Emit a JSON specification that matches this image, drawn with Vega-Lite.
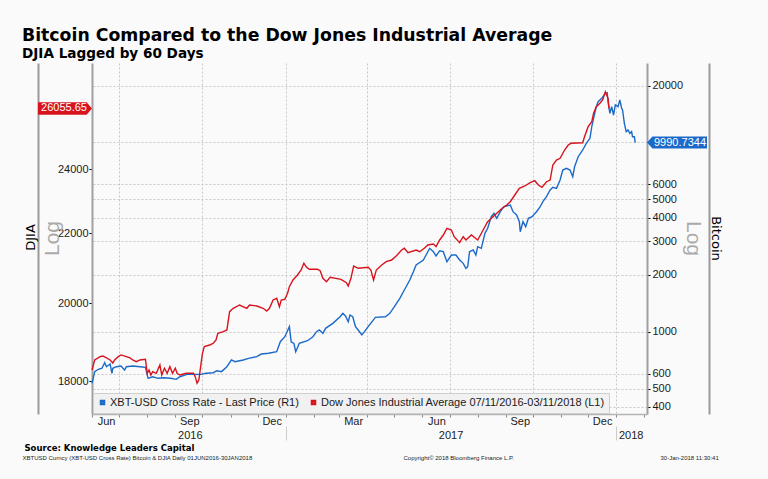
{
"$schema": "https://vega.github.io/schema/vega-lite/v6.json",
"width": 555, "height": 351,
"autosize": {"type": "none"},
"padding": {"left": 92, "top": 63, "right": 121, "bottom": 65},
"background": "#fafafa",
"title": {"text": "Bitcoin Compared to the Dow Jones Industrial Average", "subtitle": "DJIA Lagged by 60 Days", "anchor": "start", "frame": "group", "dx": -70, "offset": 2, "font": "DejaVu Sans", "fontSize": 17.3, "fontWeight": "bold", "color": "#000000", "subtitleFont": "DejaVu Sans", "subtitleFontSize": 13.6, "subtitleFontWeight": "bold", "subtitleColor": "#000000", "subtitlePadding": 3},
"config": {"view": {"stroke": null}, "axis": {"labelFont": "Liberation Sans", "labelFontSize": 11, "labelColor": "#1a1a1a"}},
"datasets": {
"btc": [
{"date":"2016-06-01","value":534},{"date":"2016-06-04","value":615},{"date":"2016-06-08","value":633},{"date":"2016-06-12","value":641},{"date":"2016-06-15","value":686},{"date":"2016-06-17","value":653},{"date":"2016-06-21","value":675},{"date":"2016-06-23","value":603},{"date":"2016-06-24","value":641},{"date":"2016-06-28","value":653},
{"date":"2016-07-03","value":659},{"date":"2016-07-07","value":627},{"date":"2016-07-09","value":653},{"date":"2016-07-16","value":659},{"date":"2016-07-24","value":653},{"date":"2016-07-30","value":648},
{"date":"2016-08-02","value":567},{"date":"2016-08-07","value":578},{"date":"2016-08-13","value":567},{"date":"2016-08-19","value":571},{"date":"2016-08-27","value":567},
{"date":"2016-09-02","value":560},{"date":"2016-09-06","value":578},{"date":"2016-09-14","value":595},{"date":"2016-09-29","value":595},
{"date":"2016-10-05","value":603},{"date":"2016-10-13","value":607},{"date":"2016-10-17","value":622},{"date":"2016-10-22","value":615},{"date":"2016-10-28","value":653},
{"date":"2016-11-02","value":709},{"date":"2016-11-06","value":694},{"date":"2016-11-15","value":709},{"date":"2016-11-21","value":723},{"date":"2016-11-30","value":738},
{"date":"2016-12-05","value":762},{"date":"2016-12-13","value":769},{"date":"2016-12-22","value":784},{"date":"2016-12-26","value":885},{"date":"2016-12-31","value":941},
{"date":"2017-01-05","value":1063},{"date":"2017-01-07","value":885},{"date":"2017-01-10","value":868},{"date":"2017-01-12","value":784},{"date":"2017-01-16","value":868},{"date":"2017-01-25","value":896},{"date":"2017-01-31","value":941},
{"date":"2017-02-04","value":1000},{"date":"2017-02-07","value":1021},{"date":"2017-02-11","value":981},{"date":"2017-02-14","value":1042},{"date":"2017-02-22","value":1107},
{"date":"2017-03-02","value":1200},{"date":"2017-03-05","value":1251},{"date":"2017-03-08","value":1210},{"date":"2017-03-11","value":1129},{"date":"2017-03-13","value":1225},{"date":"2017-03-16","value":1200},{"date":"2017-03-19","value":1063},{"date":"2017-03-22","value":1021},{"date":"2017-03-26","value":961},{"date":"2017-03-29","value":1000},
{"date":"2017-04-02","value":1063},{"date":"2017-04-10","value":1191},{"date":"2017-04-21","value":1200},{"date":"2017-04-26","value":1251},
{"date":"2017-05-01","value":1355},{"date":"2017-05-07","value":1501},{"date":"2017-05-12","value":1661},{"date":"2017-05-18","value":1876},{"date":"2017-05-22","value":2075},{"date":"2017-05-25","value":2251},
{"date":"2017-06-02","value":2392},{"date":"2017-06-05","value":2542},{"date":"2017-06-09","value":2759},{"date":"2017-06-13","value":2647},{"date":"2017-06-16","value":2512},{"date":"2017-06-20","value":2679},{"date":"2017-06-24","value":2647},{"date":"2017-06-28","value":2343},
{"date":"2017-07-03","value":2542},{"date":"2017-07-08","value":2542},{"date":"2017-07-12","value":2392},{"date":"2017-07-16","value":2298},{"date":"2017-07-19","value":2163},{"date":"2017-07-21","value":2205},{"date":"2017-07-23","value":2647},{"date":"2017-07-27","value":2702},{"date":"2017-07-30","value":2542},
{"date":"2017-08-01","value":2813},{"date":"2017-08-05","value":2759},{"date":"2017-08-09","value":3311},{"date":"2017-08-12","value":3519},{"date":"2017-08-16","value":4052},{"date":"2017-08-19","value":4223},{"date":"2017-08-22","value":3974},{"date":"2017-08-26","value":4306},{"date":"2017-08-30","value":4576},
{"date":"2017-09-06","value":4672},{"date":"2017-09-09","value":4306},{"date":"2017-09-13","value":4137},{"date":"2017-09-16","value":3813},{"date":"2017-09-17","value":3376},{"date":"2017-09-20","value":3813},{"date":"2017-09-23","value":3588},{"date":"2017-09-26","value":3974},{"date":"2017-09-30","value":4052},
{"date":"2017-10-05","value":4306},{"date":"2017-10-09","value":4576},{"date":"2017-10-12","value":4863},{"date":"2017-10-16","value":5169},{"date":"2017-10-20","value":5608},{"date":"2017-10-23","value":5795},{"date":"2017-10-27","value":5725},{"date":"2017-10-31","value":6333},
{"date":"2017-11-03","value":7153},{"date":"2017-11-07","value":7303},{"date":"2017-11-11","value":7153},{"date":"2017-11-14","value":6592},{"date":"2017-11-16","value":7446},{"date":"2017-11-20","value":8409},{"date":"2017-11-25","value":9123},{"date":"2017-11-29","value":9882},
{"date":"2017-12-03","value":10520},{"date":"2017-12-05","value":12115},{"date":"2017-12-07","value":13419},{"date":"2017-12-10","value":15452},{"date":"2017-12-12","value":16422},{"date":"2017-12-16","value":17115},{"date":"2017-12-20","value":18189},{"date":"2017-12-22","value":18323},{"date":"2017-12-23","value":16422},{"date":"2017-12-25","value":14260},{"date":"2017-12-27","value":15452},{"date":"2017-12-29","value":13968},{"date":"2017-12-31","value":15775},
{"date":"2018-01-03","value":15452},{"date":"2018-01-05","value":16766},{"date":"2018-01-07","value":15155},{"date":"2018-01-08","value":14844},{"date":"2018-01-10","value":12626},{"date":"2018-01-12","value":11399},{"date":"2018-01-14","value":11638},{"date":"2018-01-16","value":11180},{"date":"2018-01-18","value":11399},{"date":"2018-01-19","value":10727},{"date":"2018-01-21","value":10727},{"date":"2018-01-22","value":9990.7344}
],
"djia": [
{"date":"2016-06-01","value":18272},{"date":"2016-06-04","value":18521},{"date":"2016-06-10","value":18605},{"date":"2016-06-13","value":18622},{"date":"2016-06-17","value":18572},{"date":"2016-06-21","value":18521},{"date":"2016-06-24","value":18446},{"date":"2016-06-26","value":18521},{"date":"2016-06-30","value":18605},
{"date":"2016-07-03","value":18648},{"date":"2016-07-09","value":18605},{"date":"2016-07-13","value":18572},{"date":"2016-07-16","value":18521},{"date":"2016-07-20","value":18479},{"date":"2016-07-24","value":18521},{"date":"2016-07-30","value":18539},
{"date":"2016-08-01","value":18190},{"date":"2016-08-03","value":18272},{"date":"2016-08-05","value":18148},{"date":"2016-08-07","value":18230},{"date":"2016-08-11","value":18190},{"date":"2016-08-15","value":18396},{"date":"2016-08-17","value":18148},{"date":"2016-08-20","value":18314},{"date":"2016-08-23","value":18190},{"date":"2016-08-26","value":18354},{"date":"2016-08-29","value":18190},
{"date":"2016-09-01","value":18314},{"date":"2016-09-03","value":18190},{"date":"2016-09-06","value":18148},{"date":"2016-09-13","value":18190},{"date":"2016-09-21","value":18190},{"date":"2016-09-23","value":18106},{"date":"2016-09-25","value":17945},{"date":"2016-09-27","value":18025},{"date":"2016-09-29","value":18354},
{"date":"2016-10-01","value":18690},{"date":"2016-10-03","value":18859},{"date":"2016-10-09","value":18902},{"date":"2016-10-13","value":18946},{"date":"2016-10-16","value":19031},{"date":"2016-10-18","value":19205},{"date":"2016-10-24","value":19246},{"date":"2016-10-28","value":19291},{"date":"2016-10-31","value":19776},
{"date":"2016-11-04","value":19867},{"date":"2016-11-11","value":19956},{"date":"2016-11-19","value":19867},{"date":"2016-11-22","value":19956},{"date":"2016-11-30","value":19929},
{"date":"2016-12-07","value":19867},{"date":"2016-12-11","value":19794},{"date":"2016-12-14","value":19867},{"date":"2016-12-18","value":20092},{"date":"2016-12-22","value":20138},{"date":"2016-12-25","value":19910},{"date":"2016-12-27","value":20092},{"date":"2016-12-31","value":20111},
{"date":"2017-01-03","value":20275},{"date":"2017-01-05","value":20458},{"date":"2017-01-09","value":20644},{"date":"2017-01-14","value":20785},{"date":"2017-01-18","value":20926},{"date":"2017-01-21","value":21118},{"date":"2017-01-24","value":21003},{"date":"2017-01-27","value":20946},
{"date":"2017-02-05","value":20946},{"date":"2017-02-08","value":20907},{"date":"2017-02-11","value":20692},{"date":"2017-02-15","value":20597},{"date":"2017-02-19","value":20720},
{"date":"2017-03-03","value":20664},{"date":"2017-03-09","value":20569},{"date":"2017-03-11","value":20477},{"date":"2017-03-14","value":20692},{"date":"2017-03-17","value":21040},{"date":"2017-03-22","value":20975},
{"date":"2017-04-02","value":21003},{"date":"2017-04-05","value":20926},{"date":"2017-04-08","value":20644},{"date":"2017-04-11","value":20926},{"date":"2017-04-17","value":21069},{"date":"2017-04-22","value":21164},{"date":"2017-04-28","value":21212},
{"date":"2017-05-03","value":21328},{"date":"2017-05-09","value":21502},{"date":"2017-05-12","value":21552},{"date":"2017-05-16","value":21423},{"date":"2017-05-25","value":21502},{"date":"2017-05-29","value":21452},
{"date":"2017-06-03","value":21552},{"date":"2017-06-07","value":21648},{"date":"2017-06-13","value":21678},{"date":"2017-06-16","value":21599},{"date":"2017-06-20","value":21796},{"date":"2017-06-24","value":21944},{"date":"2017-06-28","value":22144},
{"date":"2017-07-03","value":22093},{"date":"2017-07-06","value":21894},{"date":"2017-07-12","value":21716},{"date":"2017-07-16","value":21894},{"date":"2017-07-19","value":21796},{"date":"2017-07-25","value":21944},
{"date":"2017-08-01","value":21796},{"date":"2017-08-07","value":22093},{"date":"2017-08-12","value":22344},{"date":"2017-08-20","value":22548},{"date":"2017-08-28","value":22754},
{"date":"2017-09-02","value":22856},{"date":"2017-09-06","value":22958},{"date":"2017-09-11","value":23168},{"date":"2017-09-16","value":23380},{"date":"2017-09-22","value":23453},{"date":"2017-09-28","value":23558},
{"date":"2017-10-03","value":23622},{"date":"2017-10-07","value":23484},{"date":"2017-10-11","value":23411},{"date":"2017-10-16","value":23590},{"date":"2017-10-20","value":23644},{"date":"2017-10-23","value":24131},{"date":"2017-10-27","value":24295},{"date":"2017-10-31","value":24351},
{"date":"2017-11-05","value":24627},{"date":"2017-11-09","value":24794},{"date":"2017-11-12","value":24852},{"date":"2017-11-25","value":24872},{"date":"2017-11-27","value":25075},
{"date":"2017-12-01","value":25418},{"date":"2017-12-05","value":25591},{"date":"2017-12-07","value":25884},{"date":"2017-12-10","value":26117},{"date":"2017-12-14","value":26238},{"date":"2017-12-17","value":26355},{"date":"2017-12-20","value":26654},{"date":"2017-12-23","value":26416},{"date":"2017-12-24","value":26055.65}
]
},
"resolve": {"scale": {"y": "independent"}, "axis": {"x": "independent", "y": "independent"}},
"layer": [
{
"data": {"name": "btc"},
"mark": {"type": "line", "strokeWidth": 1.4},
"encoding": {
"x": {"field": "date", "type": "temporal",
 "scale": {"type": "utc", "domain": [{"year": 2016, "month": 6, "date": 1, "utc": true}, {"year": 2018, "month": 2, "date": 4, "utc": true}]},
 "axis": {"orient": "bottom", "values": [{"year": 2016, "month": 9, "date": 17, "utc": true}, {"year": 2017, "month": 7, "date": 2, "utc": true}, {"year": 2018, "month": 1, "date": 17, "utc": true}],
  "labelExpr": "utcFormat(datum.value, '%Y')", "ticks": false, "domain": false, "grid": false, "labelPadding": 15, "labelOverlap": false, "labelFlush": false, "labelBound": false,
  "title": "XBTUSD Curncy (XBT-USD Cross Rate) Bitcoin & DJIA  Daily 01JUN2016-30JAN2018", "titleX": -70, "titleY": 43, "titleAlign": "left", "titleBaseline": "middle", "titleFont": "Liberation Sans", "titleFontSize": 6, "titleFontWeight": "normal", "titleColor": "#222222"}},
"y": {"field": "value", "type": "quantitative",
 "scale": {"type": "log", "domain": [367.3, 26300], "nice": false, "zero": false},
 "axis": {"orient": "right", "values": [400, 500, 600, 1000, 2000, 3000, 4000, 5000, 6000, 10000, 20000],
  "labelExpr": "datum.value == 10000 ? '' : format(datum.value, 'd')", "tickSize": 3, "tickColor": "#000000", "labelPadding": 2,
  "domainColor": "#a0a0a0", "domainWidth": 2, "grid": true, "gridColor": "#c8c8c8", "gridDash": [2, 2], "labelOverlap": false, "labelBound": false,
  "title": "Log", "titleX": 45, "titleY": 175, "titleAngle": 90, "titleAlign": "center", "titleBaseline": "middle", "titleFont": "Liberation Sans", "titleFontSize": 21, "titleFontWeight": "normal", "titleColor": "#aaaaaa"}},
"color": {"datum": "XBT-USD Cross Rate - Last Price (R1)", "type": "nominal",
 "scale": {"domain": ["XBT-USD Cross Rate - Last Price (R1)", "Dow Jones Industrial Average 07/11/2016-03/11/2018 (L1)"], "range": ["#1b6ac9", "#d7141e"]},
 "legend": {"title": null, "orient": "bottom-left", "direction": "horizontal", "offset": 1, "padding": 4, "fillColor": "#f1f1f1", "strokeColor": "#cfcfcf",
  "symbolType": "square", "symbolSize": 9, "symbolStrokeWidth": 2.5, "labelFont": "Liberation Sans", "labelFontSize": 11, "labelColor": "#1a1a1a", "labelOffset": 2, "columnPadding": 8, "labelLimit": 400}}
}
},
{
"data": {"name": "djia"},
"mark": {"type": "line", "strokeWidth": 1.4},
"encoding": {
"x": {"field": "date", "type": "temporal",
 "scale": {"type": "utc", "domain": [{"year": 2016, "month": 6, "date": 1, "utc": true}, {"year": 2018, "month": 2, "date": 4, "utc": true}]},
 "axis": {"orient": "bottom", "tickCount": {"interval": "month", "step": 1}, "tickSize": 3, "tickColor": "#888888", "domainColor": "#b4b4b4", "domainWidth": 1.5,
  "grid": true, "gridColor": "#c8c8c8", "gridDash": [2, 2], "gridOpacity": {"condition": {"test": "utcmonth(datum.value) % 3 == 0", "value": 1}, "value": 0},
  "labelExpr": "indexof(['Jun','Sep','Dec','Mar'], utcFormat(datum.value, '%b')) >= 0 ? utcFormat(datum.value, '%b') : ''",
  "labelOffset": 14, "labelPadding": -2, "labelOverlap": false, "labelFlush": false, "labelBound": false,
  "title": "Source: Knowledge Leaders Capital", "titleX": -68, "titleY": 33, "titleAlign": "left", "titleBaseline": "middle", "titleFont": "DejaVu Sans", "titleFontSize": 8.5, "titleFontWeight": "bold", "titleColor": "#000000"}},
"y": {"field": "value", "type": "quantitative",
 "scale": {"type": "log", "domain": [17212, 27713], "nice": false, "zero": false},
 "axis": {"orient": "left", "values": [18000, 20000, 22000, 24000], "format": "d", "tickSize": 3, "tickColor": "#000000", "labelPadding": 1,
  "domainColor": "#a0a0a0", "domainWidth": 2, "grid": false, "labelOverlap": false, "labelBound": false,
  "title": "Log", "titleX": -40, "titleY": 175, "titleAngle": -90, "titleAlign": "center", "titleBaseline": "middle", "titleFont": "Liberation Sans", "titleFontSize": 21, "titleFontWeight": "normal", "titleColor": "#aaaaaa"}},
"color": {"datum": "Dow Jones Industrial Average 07/11/2016-03/11/2018 (L1)", "type": "nominal"}
}
},
{
"data": {"name": "djia"},
"transform": [{"aggregate": [{"op": "argmax", "field": "date", "as": "last"}]}],
"mark": {"type": "point", "shape": "M0,0 L-0.1,-0.115 L-1,-0.115 L-1,0.115 L-0.1,0.115 Z", "size": 11664, "filled": true, "color": "#d7141e", "opacity": 1, "strokeWidth": 0},
"encoding": {
"x": {"datum": {"year": 2016, "month": 6, "date": 1, "utc": true}, "type": "temporal",
 "scale": {"type": "utc", "domain": [{"year": 2016, "month": 6, "date": 1, "utc": true}, {"year": 2018, "month": 2, "date": 4, "utc": true}]},
 "axis": {"orient": "bottom", "values": [{"year": 2017, "month": 1, "date": 1, "utc": true}, {"year": 2018, "month": 1, "date": 1, "utc": true}], "offset": 12, "ticks": true, "tickSize": 14, "tickColor": "#cccccc", "labels": false, "domain": false, "grid": false,
  "title": "Copyright© 2018 Bloomberg Finance L.P.", "titleX": 311, "titleY": 31, "titleAlign": "left", "titleBaseline": "middle", "titleFont": "Liberation Sans", "titleFontSize": 6, "titleFontWeight": "normal", "titleColor": "#222222"}},
"y": {"field": "last.value", "type": "quantitative",
 "scale": {"type": "log", "domain": [17212, 27713], "nice": false, "zero": false},
 "axis": {"orient": "left", "offset": 54, "ticks": false, "labels": false, "grid": false, "domainColor": "#9a9a9a", "domainWidth": 2,
  "title": "DJIA", "titleX": -8, "titleY": 174, "titleAngle": -90, "titleAlign": "center", "titleBaseline": "middle", "titleFont": "DejaVu Sans", "titleFontSize": 13, "titleFontWeight": "normal", "titleColor": "#000000"}}
}
},
{
"data": {"name": "djia"},
"transform": [{"aggregate": [{"op": "argmax", "field": "date", "as": "last"}]}],
"mark": {"type": "text", "align": "center", "baseline": "middle", "dx": -28, "color": "#ffffff", "font": "Liberation Sans", "fontSize": 11},
"encoding": {
"x": {"datum": {"year": 2016, "month": 6, "date": 1, "utc": true}, "type": "temporal",
 "scale": {"type": "utc", "domain": [{"year": 2016, "month": 6, "date": 1, "utc": true}, {"year": 2018, "month": 2, "date": 4, "utc": true}]}, "axis": null},
"y": {"field": "last.value", "type": "quantitative", "scale": {"type": "log", "domain": [17212, 27713], "nice": false, "zero": false}, "axis": null},
"text": {"field": "last.value", "type": "quantitative", "format": ".2f"}
}
},
{
"data": {"name": "btc"},
"transform": [{"aggregate": [{"op": "argmax", "field": "date", "as": "last"}]}],
"mark": {"type": "point", "shape": "M0,0 L0.09,-0.1 L1,-0.1 L1,0.1 L0.09,0.1 Z", "size": 14400, "filled": true, "color": "#1b6ac9", "opacity": 1, "strokeWidth": 0},
"encoding": {
"x": {"datum": {"year": 2018, "month": 2, "date": 4, "utc": true}, "type": "temporal",
 "scale": {"type": "utc", "domain": [{"year": 2016, "month": 6, "date": 1, "utc": true}, {"year": 2018, "month": 2, "date": 4, "utc": true}]},
 "axis": {"orient": "bottom", "ticks": false, "labels": false, "domain": false, "grid": false,
  "title": "30-Jan-2018 11:30:41", "titleX": 568, "titleY": 43, "titleAlign": "left", "titleBaseline": "middle", "titleFont": "Liberation Sans", "titleFontSize": 6, "titleFontWeight": "normal", "titleColor": "#222222"}},
"y": {"field": "last.value", "type": "quantitative",
 "scale": {"type": "log", "domain": [367.3, 26300], "nice": false, "zero": false},
 "axis": {"orient": "right", "offset": 62, "ticks": false, "labels": false, "grid": false, "domainColor": "#9a9a9a", "domainWidth": 2,
  "title": "Bitcoin", "titleX": 6.5, "titleY": 175, "titleAngle": 90, "titleAlign": "center", "titleBaseline": "middle", "titleFont": "DejaVu Sans", "titleFontSize": 13, "titleFontWeight": "normal", "titleColor": "#000000"}}
}
},
{
"data": {"name": "btc"},
"transform": [{"aggregate": [{"op": "argmax", "field": "date", "as": "last"}]}],
"mark": {"type": "text", "align": "center", "baseline": "middle", "dx": 33, "color": "#ffffff", "font": "Liberation Sans", "fontSize": 11},
"encoding": {
"x": {"datum": {"year": 2018, "month": 2, "date": 4, "utc": true}, "type": "temporal",
 "scale": {"type": "utc", "domain": [{"year": 2016, "month": 6, "date": 1, "utc": true}, {"year": 2018, "month": 2, "date": 4, "utc": true}]}, "axis": null},
"y": {"field": "last.value", "type": "quantitative", "scale": {"type": "log", "domain": [367.3, 26300], "nice": false, "zero": false}, "axis": null},
"text": {"field": "last.value", "type": "quantitative", "format": ".4f"}
}
}
]
}
